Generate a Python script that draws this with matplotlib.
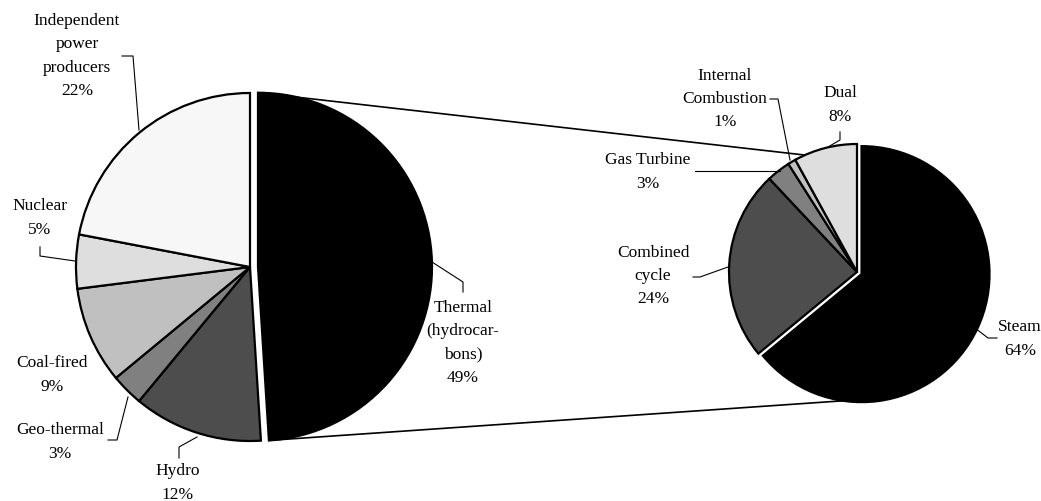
import numpy as np
import matplotlib.pyplot as plt

# Dados
main_labels = ["Thermal\n(hydrocar-\nbons)", "Hydro", "Geo-thermal", "Coal-fired",
               "Nuclear", "Independent\npower\nproducers"]
main_vals = [49, 12, 3, 9, 5, 22]
main_cores = ["#000000", "#4d4d4d", "#808080", "#c0c0c0", "#dedede", "#f7f7f7"]

sub_labels = ["Steam", "Combined\ncycle", "Gas Turbine", "Internal\nCombustion", "Dual"]
sub_vals = [64, 24, 3, 1, 8]
sub_cores = ["#000000", "#4d4d4d", "#808080", "#c0c0c0", "#dedede"]

W, H = 1041, 501
plt.rcParams["font.family"] = ["Liberation Serif", "DejaVu Serif"]

fig = plt.figure(figsize=(W / 100, H / 100), dpi=100)
ax = fig.add_axes([0, 0, 1, 1])

def py(y):
    # converte y em pixels (de cima) para coordenada do eixo
    return H - y

# pizza principal (explode em unidades do eixo = pixels)
c1 = (250, py(267))
r1 = 174
exp1 = 8
ax.pie(main_vals, colors=main_cores, startangle=90, counterclock=False,
       center=c1, radius=r1, explode=[exp1, 0, 0, 0, 0, 0],
       wedgeprops=dict(edgecolor="black", linewidth=1.6), frame=True)

# pizza secundária
c2 = (857, py(272))
r2 = 128
ax.pie(sub_vals, colors=sub_cores, startangle=90, counterclock=False,
       center=c2, radius=r2, explode=[5, 0, 0, 0, 0],
       wedgeprops=dict(edgecolor="black", linewidth=1.6), frame=True)

# linhas de ligação entre as pizzas
ang_ini = 90
ang_fim = 90 - main_vals[0] / 100 * 360
meio = np.radians((ang_ini + ang_fim) / 2)
ex = c1[0] + exp1 * np.cos(meio)
ey = c1[1] + exp1 * np.sin(meio)
p_top = (ex + r1 * np.cos(np.radians(ang_ini)), ey + r1 * np.sin(np.radians(ang_ini)))
p_bot = (ex + r1 * np.cos(np.radians(ang_fim)), ey + r1 * np.sin(np.radians(ang_fim)))
q_top = (c2[0] + r2 * np.cos(np.radians(114)), c2[1] + r2 * np.sin(np.radians(114)))
q_bot = (c2[0] + r2 * np.cos(np.radians(-91)), c2[1] + r2 * np.sin(np.radians(-91)))
ax.plot([p_top[0], q_top[0]], [p_top[1], q_top[1]], color="black", lw=1.2, zorder=0)
ax.plot([p_bot[0], q_bot[0]], [p_bot[1], q_bot[1]], color="black", lw=1.2, zorder=0)

# rótulos e linhas de chamada
fs = 12.5
def rotulo(x, y, txt, val, ha="center"):
    ax.text(x, py(y), f"{txt}\n{val}%", ha=ha, va="center", fontsize=fs,
            linespacing=1.6)

def chamada(xs, ys):
    ax.plot(xs, [py(v) for v in ys], color="black", lw=0.8)

rotulo(463, 343, main_labels[0], main_vals[0])
chamada([432, 463, 463], [262, 282, 292])
rotulo(178, 483, main_labels[1], main_vals[1])
chamada([179, 179, 197], [458, 447, 437])
rotulo(60, 442, main_labels[2], main_vals[2])
chamada([108, 117, 128], [440, 440, 397])
rotulo(52, 375, main_labels[3], main_vals[3])
rotulo(40, 218, main_labels[4], main_vals[4])
chamada([40, 40, 75], [247, 256, 261])
rotulo(77, 56, main_labels[5], main_vals[5])
chamada([122, 133, 139], [56, 56, 130])

rotulo(1020, 339, sub_labels[0], sub_vals[0])
chamada([975, 988, 997], [328, 338, 338])
rotulo(653, 276, sub_labels[1], sub_vals[1])
chamada([693, 700, 728], [277, 277, 267])
rotulo(648, 172, sub_labels[2], sub_vals[2])
chamada([695, 780], [171, 171])
rotulo(725, 99, sub_labels[3], sub_vals[3])
chamada([770, 778, 790], [99, 99, 160])
rotulo(840, 105, sub_labels[4], sub_vals[4])
chamada([840, 840, 828], [132, 140, 147])

ax.set_xlim(0, W)
ax.set_ylim(0, H)
ax.set_aspect("equal")
ax.axis("off")

plt.savefig("out.png", dpi=100)
